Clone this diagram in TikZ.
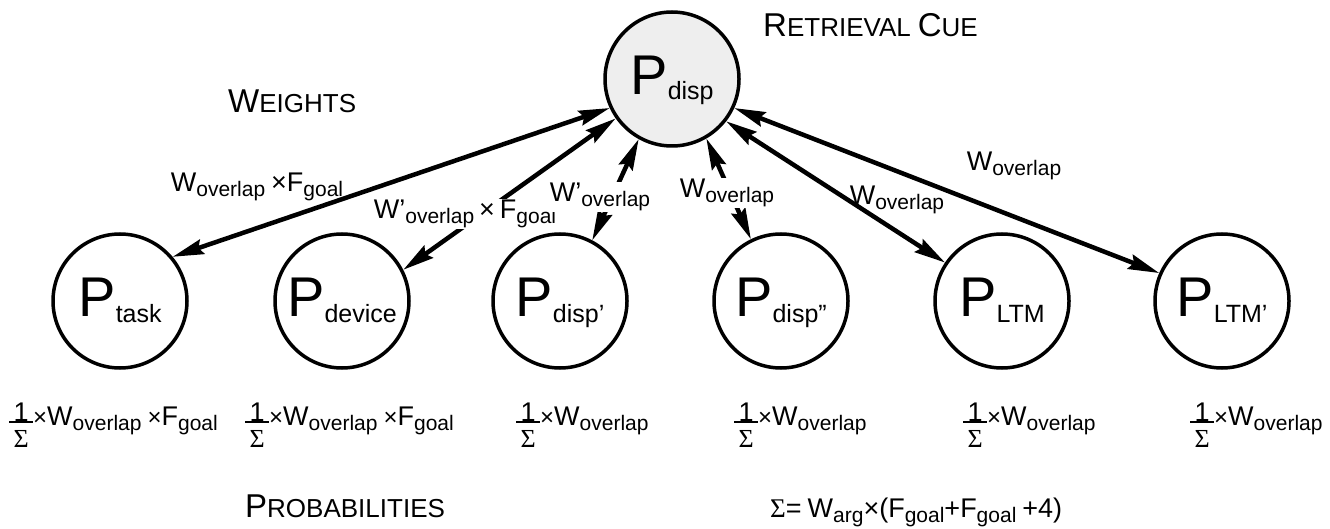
\documentclass[tikz,border=0pt]{standalone}
\usepackage{fontspec}
\setmainfont{Liberation Sans}
\newfontfamily\sigfont{Liberation Serif}
\usetikzlibrary{arrows.meta}
\definecolor{cuefill}{RGB}{238,238,238}
\newcommand{\szz}[2]{{\fontsize{#1}{#1}\selectfont #2}}
\newcommand{\Lg}[1]{\szz{27}{#1}}
\newcommand{\Sm}[1]{\raisebox{-5pt}{\szz{21}{#1}}}
\newcommand{\smc}[2]{\szz{33}{#1}\szz{26}{#2}}
\newcommand{\Pname}[1]{\raisebox{-16pt}[0pt][0pt]{\makebox[0pt]{\szz{56}{P}\raisebox{-5pt}{\szz{25}{#1}}}}}
\newcommand{\inv}{\makebox[24pt][c]{\raisebox{4pt}{\szz{27}{1}}}\hspace{-24pt}\rule[2.3pt]{24pt}{1.6pt}\hspace{-24pt}\makebox[24pt][c]{\raisebox{-22pt}{\szz{26}{\sigfont Σ}}}}
\tikzset{
 pn/.style={circle, draw, line width=3.5pt, minimum size=134pt, inner sep=0pt},
 conn/.style={line width=4.5pt, {Stealth[length=31pt,width=15pt,inset=4pt]}-{Stealth[length=31pt,width=15pt,inset=4pt]}},
 lab/.style={inner sep=1pt},
 labw/.style={inner sep=1pt, fill=white},
 txt/.style={inner sep=0pt, anchor=base west},
}
\begin{document}
\begin{tikzpicture}[x=1pt,y=-1pt]
\useasboundingbox (0,0) rectangle (1330,529);
% nodes
\node[pn, fill=cuefill] (disp) at (672,79) {\Pname{disp}};
\node[pn] (task) at (120,301) {\Pname{task}};
\node[pn] (device) at (342,301) {\Pname{device}};
\node[pn] (dispa) at (560,301) {\Pname{disp’}};
\node[pn] (dispb) at (781,301) {\Pname{disp”}};
\node[pn] (ltm) at (1002,301) {\Pname{LTM}};
\node[pn] (ltma) at (1222,301) {\Pname{LTM’}};
% connectors
\draw[conn] (disp.205) -- (task.40);
\draw[conn] (disp.215) -- (device.27);
\draw[conn] (disp.241) -- (dispa.62);
\draw[conn] (disp.300) -- (dispb.116);
\draw[conn] (disp.322) -- (ltm.146);
\draw[conn] (disp.335) -- (ltma.156);
% edge labels
\node[lab] (l1) at (257,187) {\Lg{W}\Sm{overlap}\hspace{6pt}\Lg{×F}\Sm{goal}};
\node[labw] (l2) at (465,214) {\Lg{W’}\Sm{overlap}\hspace{5pt}\Lg{×\hspace{5pt}F}\Sm{goal}};
\node[labw] (l3) at (600,197) {\Lg{W’}\Sm{overlap}};
\node[labw] (l4) at (727,193) {\Lg{W}\Sm{overlap}};
\node[lab] (l5) at (897,200) {\Lg{W}\Sm{overlap}};
\node[lab] (l6) at (1014,166) {\Lg{W}\Sm{overlap}};
% headings
\node[txt] (hR) at (763,37) {\smc{R}{ETRIEVAL}\hspace{7pt}\smc{C}{UE}};
\node[txt] (hW) at (228,113) {\smc{W}{EIGHTS}};
\node[txt] (hP) at (245,517) {\smc{P}{ROBABILITIES}};
% probabilities
\node[txt] (f1) at (9,425) {\inv\szz{24}{×}\Lg{W}\Sm{overlap}\hspace{6pt}\szz{24}{×}\Lg{F}\Sm{goal}};
\node[txt] (f2) at (245,425) {\inv\szz{24}{×}\Lg{W}\Sm{overlap}\hspace{6pt}\szz{24}{×}\Lg{F}\Sm{goal}};
\node[txt] (f3) at (516,425) {\inv\szz{24}{×}\Lg{W}\Sm{overlap}};
\node[txt] (f4) at (734,425) {\inv\szz{24}{×}\Lg{W}\Sm{overlap}};
\node[txt] (f5) at (963,425) {\inv\szz{24}{×}\Lg{W}\Sm{overlap}};
\node[txt] (f6) at (1190,425) {\inv\szz{24}{×}\Lg{W}\Sm{overlap}};
\node[txt] (sig) at (770,517) {\szz{27}{\sigfont Σ}\szz{27}{=}\hspace{6pt}\Lg{W}\Sm{arg}\Lg{×(F}\Sm{goal}\Lg{+F}\Sm{goal}\hspace{6pt}\Lg{+4)}};
\end{tikzpicture}
\end{document}
